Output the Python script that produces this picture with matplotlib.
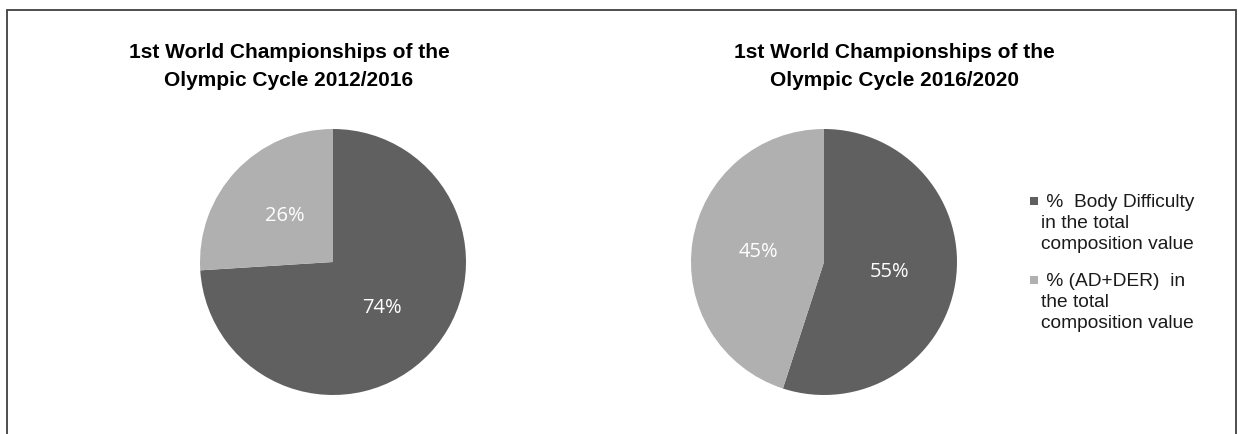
import matplotlib.pyplot as plt
from matplotlib.patches import Rectangle

W, H = 1239, 434

titles = ['1st World Championships of the\nOlympic Cycle 2012/2016',
          '1st World Championships of the\nOlympic Cycle 2016/2020']
shares_2012 = [74, 26]
shares_2016 = [55, 45]
labels = [' %  Body Difficulty\nin the total\ncomposition value',
          ' % (AD+DER)  in\nthe total\ncomposition value']
colors = ['#606060', '#b0b0b0']


def px_axes(fig, cx, cy, r):
    """square axes centred at pixel (cx, cy) from top-left"""
    return fig.add_axes([(cx - r) / W, (H - cy - r) / H, 2 * r / W, 2 * r / H])


fig = plt.figure(figsize=(W / 100, H / 100), dpi=100)

# outer chart border (bottom edge runs off the page)
fig.patches.append(Rectangle((7 / W, -0.05), (1236 - 7) / W, (H - 10) / H + 0.05,
                             transform=fig.transFigure, fill=False,
                             edgecolor='#404040', linewidth=1.3))

for cx, tx, vals, title in [(333, 289, shares_2012, titles[0]),
                            (824, 894, shares_2016, titles[1])]:
    ax = px_axes(fig, cx, 262, 133)
    ax.pie(vals, colors=colors, startangle=90, counterclock=False,
           autopct='%d%%', pctdistance=0.5,
           wedgeprops=dict(linewidth=0),
           textprops=dict(color='white', fontsize=14.5, family='Open Sans'))
    ax.set_xlim(-1, 1)
    ax.set_ylim(-1, 1)
    fig.text(tx / W, 1 - 67 / H, title, ha='center', va='center',
             fontsize=15, fontweight='bold', family='Liberation Sans',
             linespacing=1.6)

# legend: square marker next to the first line of each entry
for i, (lab, c) in enumerate(zip(labels, colors)):
    y = 201 + i * 79
    fig.patches.append(Rectangle((1030 / W, 1 - (y + 4) / H), 8 / W, 8 / H,
                                 transform=fig.transFigure, facecolor=c,
                                 edgecolor='none'))
    fig.text(1041 / W, 1 - (y - 7) / H, lab, ha='left', va='top',
             fontsize=13.8, family='Liberation Sans', color='#1a1a1a',
             linespacing=1.3)

fig.savefig('out.png', dpi=100)
